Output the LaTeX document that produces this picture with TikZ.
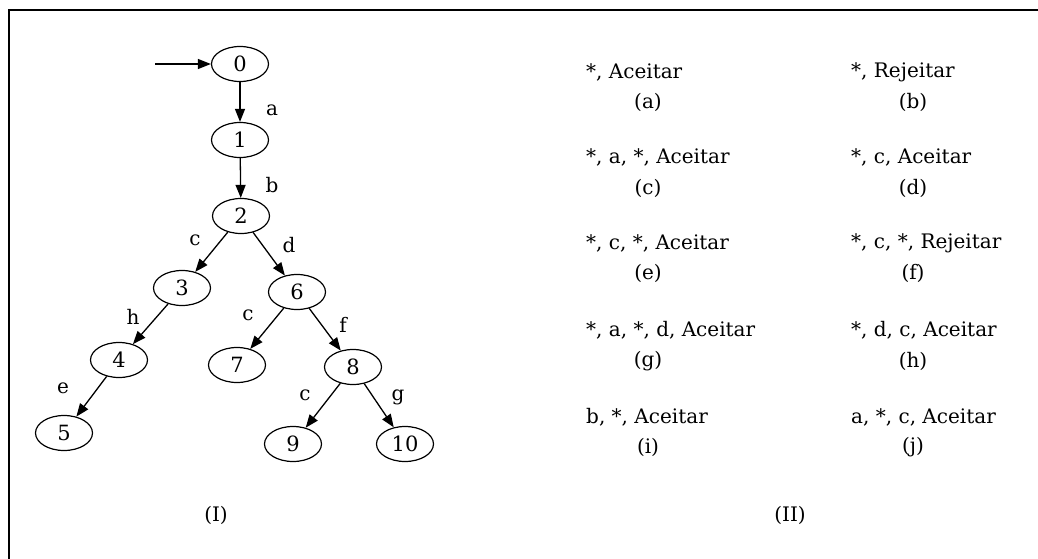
\documentclass[tikz,border=0pt]{standalone}
\usepackage{fontspec}
\setmainfont{DejaVu Serif}
\usetikzlibrary{shapes.geometric,arrows.meta}
\begin{document}
\begin{tikzpicture}[x=1pt,y=-1pt,
  st/.style={ellipse,draw,line width=1.2pt,minimum width=57pt,minimum height=35pt,inner sep=0pt,font=\fontsize{21}{24}\selectfont},
  tr/.style={-{Triangle[length=13pt,width=10pt]},line width=1.3pt},
  lab/.style={font=\fontsize{20}{24}\selectfont,inner sep=0pt},
  opt/.style={font=\fontsize{20}{24}\selectfont,inner sep=0pt,anchor=west},
  tag/.style={font=\fontsize{20}{24}\selectfont,inner sep=0pt}]
\useasboundingbox (0,0) rectangle (1038,559);
\fill[white] (0,0) rectangle (1038,559);
\draw[line width=2.5pt] (9,559) -- (9,10) -- (1038,10);
% tree
\node[st] (n0) at (240,64) {0};
\node[st] (n1) at (240,140) {1};
\node[st] (n2) at (241,216) {2};
\node[st] (n3) at (182,288) {3};
\node[st] (n6) at (297,292) {6};
\node[st] (n4) at (119,360) {4};
\node[st] (n7) at (237,365) {7};
\node[st] (n8) at (353,367) {8};
\node[st] (n5) at (64,433) {5};
\node[st] (n9) at (293,444) {9};
\node[st] (n10) at (405,444) {10};
\coordinate (start) at (155,64);
\draw[tr] (start) -- (n0);
\draw[tr] (n0) -- (n1);
\draw[tr] (n1) -- (n2);
\draw[tr] (n2) -- (n3);
\draw[tr] (n2) -- (n6);
\draw[tr] (n3) -- (n4);
\draw[tr] (n4) -- (n5);
\draw[tr] (n6) -- (n7);
\draw[tr] (n6) -- (n8);
\draw[tr] (n8) -- (n9);
\draw[tr] (n8) -- (n10);
\node[lab] (la) at (272,110) {a};
\node[lab] (lb) at (272,185) {b};
\node[lab] (lc1) at (195,240) {c};
\node[lab] (ld) at (289,245) {d};
\node[lab] (lh) at (133,317) {h};
\node[lab] (lc2) at (248,315) {c};
\node[lab] (lf) at (343,325) {f};
\node[lab] (le) at (63,388) {e};
\node[lab] (lc3) at (305,395) {c};
\node[lab] (lg) at (398,397) {g};
% options
\node[opt] (oa) at (586,72) {*, Aceitar};
\node[tag] (ta) at (648,102) {(a)};
\node[opt] (ob) at (851,72) {*, Rejeitar};
\node[tag] (tb) at (913,102) {(b)};
\node[opt] (oc) at (586,157) {*, a, *, Aceitar};
\node[tag] (tc) at (648,188) {(c)};
\node[opt] (od) at (851,157) {*, c, Aceitar};
\node[tag] (td) at (913,188) {(d)};
\node[opt] (oe) at (586,243) {*, c, *, Aceitar};
\node[tag] (te) at (648,273) {(e)};
\node[opt] (of) at (851,243) {*, c, *, Rejeitar};
\node[tag] (tf) at (913,273) {(f)};
\node[opt] (og) at (586,330) {*, a, *, d, Aceitar};
\node[tag] (tg) at (648,361) {(g)};
\node[opt] (oh) at (851,330) {*, d, c, Aceitar};
\node[tag] (th) at (913,361) {(h)};
\node[opt] (oi) at (586,417) {b, *, Aceitar};
\node[tag] (ti) at (648,447) {(i)};
\node[opt] (oj) at (851,417) {a, *, c, Aceitar};
\node[tag] (tj) at (913,447) {(j)};
\node[tag] (cI) at (216,515) {(I)};
\node[tag] (cII) at (790,515) {(II)};
\end{tikzpicture}
\end{document}
